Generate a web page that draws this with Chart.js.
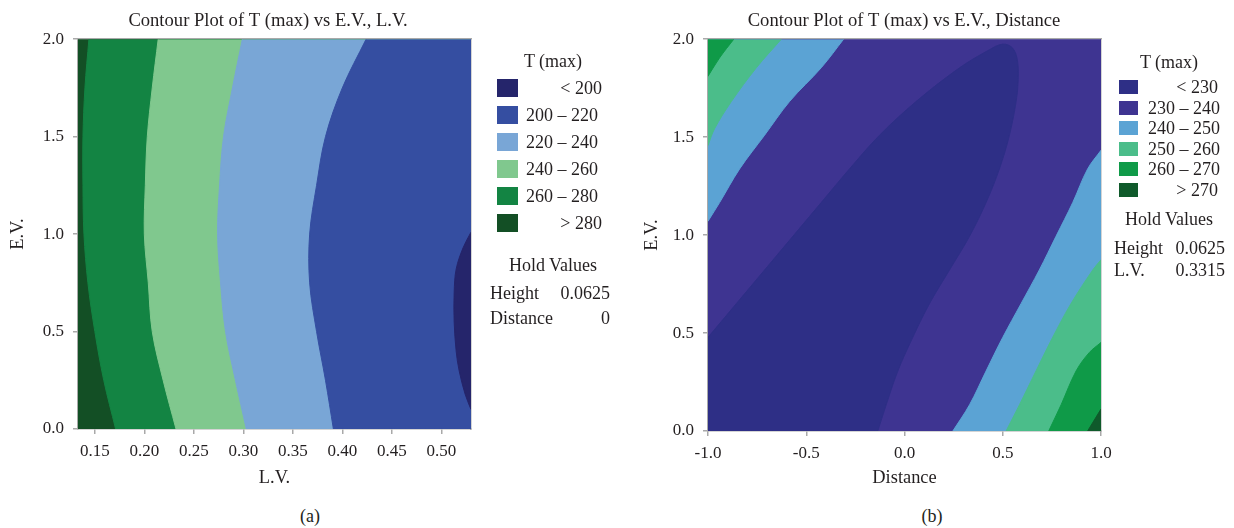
<!DOCTYPE html>
<html>
<head>
<meta charset="utf-8">
<script src="https://cdn.jsdelivr.net/npm/chart.js@4.4.0/dist/chart.umd.min.js"></script>
<style>
  html, body { margin: 0; padding: 0; background: #fff; }
  body { width: 1234px; height: 528px; position: relative; overflow: hidden;
         font-family: 'Liberation Serif', 'DejaVu Serif', serif; color: #231f20; }
  .box { position: absolute; }
  .txt { position: absolute; white-space: nowrap; font-size: 18px; line-height: 20px; }
  .sw { position: absolute; }
</style>
</head>
<body>
<div class="box" style="left:0;top:0;width:536px;height:500px"><canvas id="chartA"></canvas></div>
<div class="box" style="left:630px;top:0;width:548px;height:500px"><canvas id="chartB"></canvas></div>
<script>
// ---------- chart (a) : T (max) vs E.V., L.V. ----------
const lvMin = 0.133, lvMax = 0.53;
const evMin = 0, evMax = 2;
const lvTicks = [0.15, 0.20, 0.25, 0.30, 0.35, 0.40, 0.45, 0.50];
const evTicks = [0.0, 0.5, 1.0, 1.5, 2.0];

const evLevels = [2.0, 1.75, 1.5, 1.25, 1.0, 0.75, 0.5, 0.25, 0.0];
const lv280 = [0.144, 0.140, 0.138, 0.138, 0.139, 0.143, 0.150, 0.159, 0.171];
const lv260 = [0.214, 0.208, 0.203, 0.201, 0.200, 0.204, 0.208, 0.219, 0.232];
const lv240 = [0.299, 0.289, 0.280, 0.276, 0.274, 0.277, 0.282, 0.292, 0.303];
const lv220 = [0.424, 0.400, 0.383, 0.374, 0.367, 0.367, 0.374, 0.383, 0.391];
// small < 200 pocket on the right edge
const ev200 = [1.01, 0.93, 0.82, 0.70, 0.55, 0.40, 0.30, 0.18, 0.10];
const lv200 = [0.53, 0.522, 0.515, 0.513, 0.513, 0.515, 0.518, 0.524, 0.53];

const legendA = ['< 200', '200 – 220', '220 – 240', '240 – 260', '260 – 280', '> 280'];
const holdA = [['Height', '0.0625'], ['Distance', '0']];

// ---------- chart (b) : T (max) vs E.V., Distance ----------
const distMin = -1, distMax = 1;
const distTicks = [-1.0, -0.5, 0.0, 0.5, 1.0];

// < 230 region (Distance, E.V.)
const d230 = [-1, -0.856, -0.712, -0.568, -0.424, -0.280, -0.127, 0.059, 0.280, 0.430, 0.500, 0.550, 0.575, 0.578, 0.568, 0.534, 0.483, 0.415, 0.331, 0.229, 0.127, 0.042, -0.034, -0.093, -0.136];
const e230 = [0.478, 0.650, 0.822, 0.994, 1.166, 1.338, 1.510, 1.682, 1.854, 1.945, 1.975, 1.955, 1.890, 1.780, 1.682, 1.510, 1.338, 1.166, 0.994, 0.822, 0.650, 0.478, 0.306, 0.134, 0];
// upper-left bands
const d240up = [-0.310, -0.424, -0.585, -0.712, -0.839, -0.941, -1];
const e240up = [2, 1.854, 1.682, 1.510, 1.338, 1.166, 1.071];
const d250up = [-0.627, -0.754, -0.881, -0.966, -1];
const e250up = [2, 1.854, 1.682, 1.544, 1.458];
const d260up = [-0.869, -0.941, -1];
const e260up = [2, 1.905, 1.811];
// lower-right bands
const d240dn = [0.246, 0.331, 0.415, 0.500, 0.593, 0.686, 0.771, 0.856, 0.932, 1];
const e240dn = [0, 0.134, 0.306, 0.478, 0.650, 0.822, 0.994, 1.166, 1.338, 1.433];
const d250dn = [0.517, 0.585, 0.669, 0.754, 0.847, 0.958, 1];
const e250dn = [0, 0.134, 0.306, 0.478, 0.650, 0.822, 0.874];
const d260dn = [0.734, 0.797, 0.873, 0.940, 1];
const e260dn = [0, 0.134, 0.306, 0.400, 0.452];
const d270dn = [0.932, 1];
const e270dn = [0, 0.112];

const legendB = ['< 230', '230 – 240', '240 – 250', '250 – 260', '260 – 270', '> 270'];
const holdB = [['Height', '0.0625'], ['L.V.', '0.3315']];

// colours, low to high
const colorsA = ['#25256b', '#354ea1', '#79a6d6', '#80c88e', '#138443', '#134f25'];
const colorsB = ['#2e2f86', '#3e3491', '#5ba3d4', '#4bbd8a', '#0f9a48', '#0f5a2b'];

const ink = '#231f20';
const axisGray = '#a9a9a9';

Chart.defaults.font.family = "'Liberation Serif', 'DejaVu Serif', serif";
Chart.defaults.font.size = 17;
Chart.defaults.color = ink;

function pts(xs, ys) {
  return xs.map((x, i) => ({x: x, y: ys[i]}));
}

function region(points, color) {
  return {
    data: points, fill: 'shape', backgroundColor: color,
    borderColor: color, borderWidth: 1, pointRadius: 0, tension: 0.35
  };
}

// y2 width = room on the right, so the title still centres on the whole canvas
function axes(xMin, xMax, xTicks, xDigits, xTitle, xHeight, yTitlePad, rightRoom) {
  return {
    x: {
      type: 'linear', min: xMin, max: xMax, z: 1,
      afterBuildTicks: s => { s.ticks = xTicks.map(v => ({value: v})); },
      afterFit: s => { s.height = xHeight; },
      ticks: {padding: 7, maxRotation: 0, callback: v => v.toFixed(xDigits)},
      grid: {drawOnChartArea: false, tickLength: 5, color: axisGray, lineWidth: 1.5},
      border: {color: axisGray, width: 1.5},
      title: {display: true, text: xTitle, font: {size: 18.4}, padding: {top: 4, bottom: 11}}
    },
    y: {
      type: 'linear', min: evMin, max: evMax, z: 1,
      afterBuildTicks: s => { s.ticks = evTicks.map(v => ({value: v})); },
      afterFit: s => { s.width = 78; },
      ticks: {padding: 9, callback: v => v.toFixed(1)},
      grid: {drawOnChartArea: false, tickLength: 5, color: axisGray, lineWidth: 1.5},
      border: {color: axisGray, width: 1.5},
      title: {display: true, text: 'E.V.', font: {size: 18.4}, padding: {top: yTitlePad, bottom: 0}}
    },
    x2: {
      type: 'linear', position: 'top', min: xMin, max: xMax, z: 1,
      ticks: {display: false}, grid: {display: false},
      border: {color: axisGray, width: 1.5},
      afterFit: s => { s.height = 0; }
    },
    y2: {
      type: 'linear', position: 'right', min: evMin, max: evMax, z: 1,
      ticks: {display: false}, grid: {display: false},
      border: {color: axisGray, width: 1.5},
      afterFit: s => { s.width = rightRoom; }
    }
  };
}

function baseOptions(title, scales) {
  return {
    responsive: true, maintainAspectRatio: false, animation: false,
    layout: {padding: 0},
    plugins: {
      legend: {display: false}, tooltip: {enabled: false},
      title: {display: true, text: title, color: ink,
              font: {size: 18.6, weight: 'normal'}, padding: {top: 9.5, bottom: 7.4}}
    },
    scales: scales
  };
}

// closes a contour line through plot corners; the end point is doubled
// so the smoothing does not bend the line towards the corner
function closeVia(xs, ys, corners) {
  const p = pts(xs, ys);
  p.push({x: xs[xs.length - 1], y: ys[ys.length - 1]});
  corners.forEach(c => p.push({x: c[0], y: c[1]}));
  return p;
}

// ---- chart (a): paint from the left band to the right one ----
const cornersA = [[lvMax, evMin], [lvMax, evMax]];
const dsA = [
  region(pts([lvMin, lvMax, lvMax, lvMin], [evMin, evMin, evMax, evMax]), colorsA[5]),
  region(closeVia(lv280, evLevels, cornersA), colorsA[4]),
  region(closeVia(lv260, evLevels, cornersA), colorsA[3]),
  region(closeVia(lv240, evLevels, cornersA), colorsA[2]),
  region(closeVia(lv220, evLevels, cornersA), colorsA[1]),
  region(pts(lv200, ev200), colorsA[0])
];
dsA[0].tension = 0;

new Chart(document.getElementById('chartA'), {
  type: 'line',
  data: {datasets: dsA.reverse()},
  options: baseOptions('Contour Plot of T (max) vs E.V., L.V.',
    axes(lvMin, lvMax, lvTicks, 2, 'L.V.', 71, 7.5, 65))
});

// ---- chart (b) ----
const upLeft = [[distMin, evMax]];
const downRight = [[distMax, evMin]];
const dsB = [
  region(pts([distMin, distMax, distMax, distMin], [evMin, evMin, evMax, evMax]), colorsB[1]),
  region(closeVia(d230, e230, [[distMin, evMin]]), colorsB[0]),
  region(closeVia(d240up, e240up, upLeft), colorsB[2]),
  region(closeVia(d250up, e250up, upLeft), colorsB[3]),
  region(closeVia(d260up, e260up, upLeft), colorsB[4]),
  region(closeVia(d240dn, e240dn, downRight), colorsB[2]),
  region(closeVia(d250dn, e250dn, downRight), colorsB[3]),
  region(closeVia(d260dn, e260dn, downRight), colorsB[4]),
  region(closeVia(d270dn, e270dn, downRight), colorsB[5])
];
dsB[0].tension = 0;

new Chart(document.getElementById('chartB'), {
  type: 'line',
  data: {datasets: dsB.reverse()},
  options: baseOptions('Contour Plot of T (max) vs E.V., Distance',
    axes(distMin, distMax, distTicks, 1, 'Distance', 69, 11, 77))
});

// ---- legends and hold values (html) ----
function put(text, x, y, align) {
  const d = document.createElement('div');
  d.className = 'txt';
  d.textContent = text;
  d.style.left = x + 'px';
  d.style.top = y + 'px';
  const tx = align === 'center' ? '-50%' : (align === 'right' ? '-100%' : '0');
  d.style.transform = 'translate(' + tx + ', -50%)';
  document.body.appendChild(d);
}
function swatch(color, x, y, w, h) {
  const d = document.createElement('div');
  d.className = 'sw';
  d.style.cssText = 'left:' + x + 'px;top:' + y + 'px;width:' + w + 'px;height:' + h + 'px;background:' + color;
  document.body.appendChild(d);
}

function legend(labels, colors, L) {
  put('T (max)', L.cx, L.titleY, 'center');
  labels.forEach((lab, i) => {
    const top = L.top + L.step * i;
    swatch(colors[i], L.swX, top, L.swW, L.swH);
    const cy = top + L.swH / 2;
    if (lab[0] === '<' || lab[0] === '>') put(lab, L.textR, cy, 'right');
    else put(lab, L.textL, cy, 'left');
  });
}

legend(legendA, colorsA, {cx: 553, titleY: 61, top: 79, step: 27, swX: 497, swW: 21, swH: 18, textL: 526, textR: 602});
put('Hold Values', 553, 265, 'center');
holdA.forEach((h, i) => { put(h[0], 490, 293 + 25 * i, 'left'); put(h[1], 610, 293 + 25 * i, 'right'); });

legend(legendB, colorsB, {cx: 1169, titleY: 62, top: 80, step: 20.5, swX: 1119, swW: 19, swH: 14, textL: 1148, textR: 1218});
put('Hold Values', 1169, 219, 'center');
holdB.forEach((h, i) => { put(h[0], 1114, 248 + 22 * i, 'left'); put(h[1], 1225, 248 + 22 * i, 'right'); });

put('(a)', 310, 516, 'center');
put('(b)', 932, 516, 'center');
</script>
</body>
</html>
